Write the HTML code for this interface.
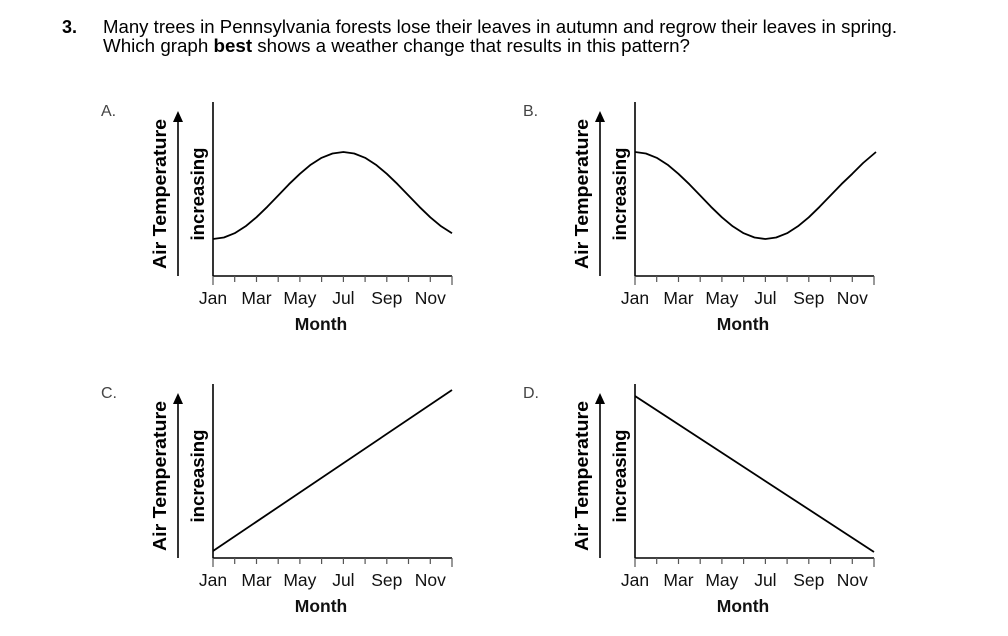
<!DOCTYPE html>
<html><head><meta charset="utf-8"><style>
html,body{margin:0;padding:0;background:#fff}
svg{display:block;font-family:"Liberation Sans",Arial,sans-serif}
</style></head><body>
<svg width="1008" height="636" viewBox="0 0 1008 636" xmlns="http://www.w3.org/2000/svg">
<defs>
<g id="frame">
  <line x1="213" y1="102" x2="213" y2="276" stroke="#000" stroke-width="1.6"/>
  <line x1="213" y1="276" x2="452" y2="276" stroke="#000" stroke-width="1.6"/>
  <g stroke="#555" stroke-width="1.2">
    <line x1="213" y1="276" x2="213" y2="285"/>
    <line x1="234.7" y1="276" x2="234.7" y2="282"/>
    <line x1="256.5" y1="276" x2="256.5" y2="282"/>
    <line x1="278.2" y1="276" x2="278.2" y2="282"/>
    <line x1="299.9" y1="276" x2="299.9" y2="282"/>
    <line x1="321.6" y1="276" x2="321.6" y2="282"/>
    <line x1="343.4" y1="276" x2="343.4" y2="282"/>
    <line x1="365.1" y1="276" x2="365.1" y2="282"/>
    <line x1="386.8" y1="276" x2="386.8" y2="282"/>
    <line x1="408.5" y1="276" x2="408.5" y2="282"/>
    <line x1="430.3" y1="276" x2="430.3" y2="282"/>
    <line x1="452" y1="276" x2="452" y2="285"/>
  </g>
  <g font-size="17.5" fill="#111" text-anchor="middle">
    <text x="213" y="304">Jan</text>
    <text x="256.5" y="304">Mar</text>
    <text x="299.9" y="304">May</text>
    <text x="343.4" y="304">Jul</text>
    <text x="386.8" y="304">Sep</text>
    <text x="430.3" y="304">Nov</text>
    <text x="321" y="330" font-weight="bold">Month</text>
  </g>
  <line x1="178" y1="276" x2="178" y2="120" stroke="#000" stroke-width="1.6"/>
  <polygon points="178,111 173,122 183,122" fill="#000"/>
  <text transform="translate(166,194) rotate(-90)" text-anchor="middle" font-size="18" font-weight="bold" textLength="150" lengthAdjust="spacingAndGlyphs">Air Temperature</text>
  <text transform="translate(204,194) rotate(-90)" text-anchor="middle" font-size="18" font-weight="bold" textLength="93" lengthAdjust="spacingAndGlyphs">increasing</text>
</g>
</defs>
<text x="62" y="33" font-size="18" font-weight="bold">3.</text>
<text x="103" y="33" font-size="18" textLength="794" lengthAdjust="spacingAndGlyphs">Many trees in Pennsylvania forests lose their leaves in autumn and regrow their leaves in spring.</text>
<text x="103" y="52" font-size="18" textLength="587" lengthAdjust="spacingAndGlyphs">Which graph <tspan font-weight="bold">best</tspan> shows a weather change that results in this pattern?</text>

<text x="101" y="116" font-size="16" fill="#444">A.</text>
<text x="523" y="116" font-size="16" fill="#444">B.</text>
<text x="101" y="398" font-size="16" fill="#444">C.</text>
<text x="523" y="398" font-size="16" fill="#444">D.</text>

<use href="#frame"/>
<use href="#frame" transform="translate(422,0)"/>
<use href="#frame" transform="translate(0,282)"/>
<use href="#frame" transform="translate(422,282)"/>

<g fill="none" stroke="#000" stroke-width="1.8" stroke-linejoin="round">
  <polyline points="213,239 223.9,237.5 234.7,233.2 245.6,226.3 256.4,217.3 267.3,206.8 278.2,195.5 289,184.2 299.9,173.8 310.7,164.7 321.6,157.8 332.5,153.5 343.4,152 354.2,153.5 365.1,157.8 375.9,164.7 386.8,173.8 397.6,184.2 408.5,195.5 419.4,206.8 430.3,217.3 441.1,226.3 452,233.2"/>
  <polyline transform="translate(422,0)" points="213,152 223.9,153.5 234.7,157.8 245.6,164.7 256.4,173.8 267.3,184.2 278.2,195.5 289,206.8 299.9,217.3 310.7,226.3 321.6,233.2 332.5,237.5 343.4,239 354.2,237.5 365.1,233.2 375.9,226.3 386.8,217.3 397.6,206.8 408.5,195.5 419.4,184.2 430.3,173.8 441.1,163 454,152"/>
  <line x1="213" y1="551" x2="452" y2="390"/>
  <line x1="635" y1="396" x2="874" y2="552"/>
</g>
</svg>
</body></html>
